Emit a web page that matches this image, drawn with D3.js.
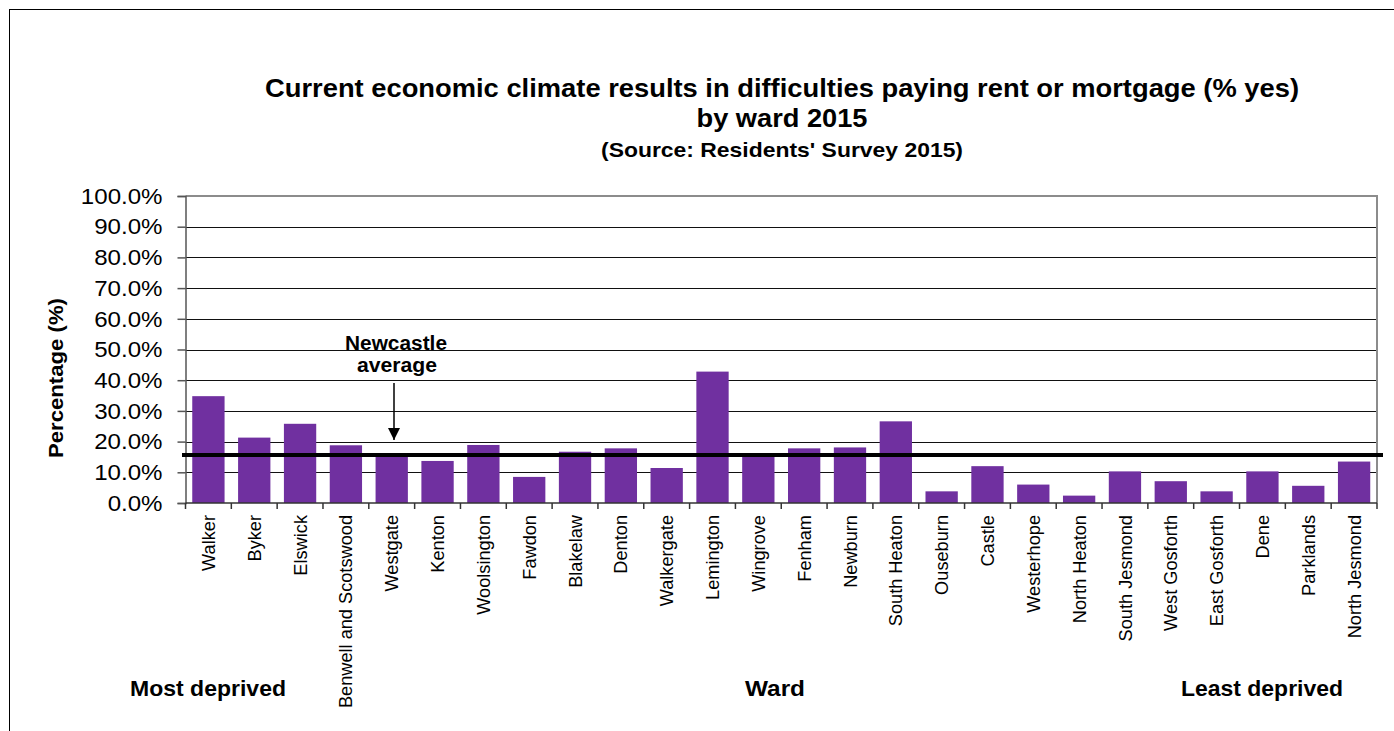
<!DOCTYPE html>
<html>
<head>
<meta charset="utf-8">
<script src="https://cdnjs.cloudflare.com/ajax/libs/d3/7.8.5/d3.min.js"></script>
<style>
  html, body { margin: 0; padding: 0; background: #fff; }
  svg { display: block; }
  text { font-family: Arial, "Liberation Sans", sans-serif; fill: #000; }
</style>
</head>
<body>
<svg id="chart" width="1394" height="731"></svg>
<script>
// Wards ordered from most to least deprived
const wards = [
  "Walker", "Byker", "Elswick", "Benwell and Scotswood", "Westgate", "Kenton",
  "Woolsington", "Fawdon", "Blakelaw", "Denton", "Walkergate", "Lemington",
  "Wingrove", "Fenham", "Newburn", "South Heaton", "Ouseburn", "Castle",
  "Westerhope", "North Heaton", "South Jesmond", "West Gosforth", "East Gosforth",
  "Dene", "Parklands", "North Jesmond"
];
// % answering yes
const pctYes = [
  34.8, 21.3, 25.8, 18.8, 15.0, 13.7,
  18.9, 8.5, 16.7, 17.8, 11.4, 42.8,
  15.4, 17.8, 18.1, 26.6, 3.8, 12.0,
  6.0, 2.4, 10.3, 7.1, 3.8,
  10.3, 5.6, 13.5
];
const cityAverage = 15.6;
const yTicks = [0, 10, 20, 30, 40, 50, 60, 70, 80, 90, 100];

const titleLines = [
  "Current economic climate results in difficulties paying rent or mortgage (% yes)",
  "by ward 2015"
];
const sourceLine = "(Source: Residents' Survey 2015)";

const svg = d3.select("#chart");

// outer frame
svg.append("rect")
  .attr("x", 9.5).attr("y", 9.5)
  .attr("width", 1420).attr("height", 740)
  .attr("fill", "none").attr("stroke", "#000").attr("stroke-width", 1);

const plot = { left: 185.5, right: 1377, top: 196, bottom: 503 };

const x = d3.scaleBand()
  .domain(wards)
  .range([plot.left, plot.right])
  .paddingInner(0.295)
  .paddingOuter(0.1475);

const y = d3.scaleLinear()
  .domain([0, 100])
  .range([plot.bottom, plot.top]);

// horizontal gridlines
svg.append("g")
  .selectAll("line")
  .data(yTicks.filter(t => t > 0 && t < 100))
  .join("line")
  .attr("x1", plot.left).attr("x2", plot.right)
  .attr("y1", d => Math.round(y(d)) + 0.5).attr("y2", d => Math.round(y(d)) + 0.5)
  .attr("stroke", "#111").attr("stroke-width", 1);

// plot area outline (top and right)
svg.append("path")
  .attr("d", `M${plot.left},${plot.top} H${plot.right} V${plot.bottom}`)
  .attr("fill", "none").attr("stroke", "#8c8c8c").attr("stroke-width", 2);

// bars
svg.append("g")
  .selectAll("rect")
  .data(wards.map((w, i) => ({ ward: w, value: pctYes[i] })))
  .join("rect")
  .attr("x", d => x(d.ward))
  .attr("width", x.bandwidth())
  .attr("y", d => y(d.value))
  .attr("height", d => y(0) - y(d.value))
  .attr("fill", "#7030A0");

// y axis
const yAxis = svg.append("g")
  .attr("transform", `translate(${plot.left},0)`)
  .call(d3.axisLeft(y).tickValues(yTicks).tickSize(8).tickPadding(15)
    .tickFormat(d => d.toFixed(1) + "%"));
yAxis.select(".domain").attr("stroke", "#555").attr("stroke-width", 1.5);
yAxis.selectAll(".tick line").attr("stroke", "#555").attr("stroke-width", 1.5);
yAxis.selectAll(".tick text")
  .style("font-size", "22.5px")
  .attr("fill", "#000")
  .each(function () {
    // slightly wide lettering
    const w = this.getComputedTextLength();
    d3.select(this).attr("textLength", w * 1.07).attr("lengthAdjust", "spacingAndGlyphs");
  });

// x axis baseline with ticks between categories
const step = x.step();
const xAxisG = svg.append("g");
xAxisG.append("line")
  .attr("x1", plot.left).attr("x2", plot.right)
  .attr("y1", plot.bottom).attr("y2", plot.bottom)
  .attr("stroke", "#333").attr("stroke-width", 1.5);
xAxisG.selectAll("line.tick")
  .data(d3.range(wards.length + 1))
  .join("line")
  .attr("class", "tick")
  .attr("x1", i => plot.left + i * step).attr("x2", i => plot.left + i * step)
  .attr("y1", plot.bottom).attr("y2", plot.bottom + 6)
  .attr("stroke", "#333").attr("stroke-width", 1.5);

// category labels, rotated
xAxisG.selectAll("text")
  .data(wards)
  .join("text")
  .attr("transform", d => `translate(${x(d) + x.bandwidth() / 2},${plot.bottom + 12}) rotate(-90)`)
  .attr("dy", "0.36em")
  .attr("text-anchor", "end")
  .style("font-size", "18.2px")
  .text(d => d);

// city average line
svg.append("line")
  .attr("x1", 182).attr("x2", 1383)
  .attr("y1", y(cityAverage)).attr("y2", y(cityAverage))
  .attr("stroke", "#000").attr("stroke-width", 4);

// annotation and arrow
svg.append("defs").append("marker")
  .attr("id", "arrowHead")
  .attr("viewBox", "0 0 10 10")
  .attr("refX", 10).attr("refY", 5)
  .attr("markerWidth", 12).attr("markerHeight", 12)
  .attr("markerUnits", "userSpaceOnUse")
  .attr("orient", "auto")
  .append("path").attr("d", "M0,0 L10,5 L0,10 Z").attr("fill", "#000");

svg.append("line")
  .attr("x1", 394).attr("x2", 394)
  .attr("y1", 383).attr("y2", 440)
  .attr("stroke", "#000").attr("stroke-width", 1.5)
  .attr("marker-end", "url(#arrowHead)");

svg.append("text")
  .attr("x", 396).attr("y", 350)
  .attr("text-anchor", "middle")
  .style("font-size", "20px").style("font-weight", "bold")
  .attr("textLength", 102).attr("lengthAdjust", "spacingAndGlyphs")
  .text("Newcastle");
svg.append("text")
  .attr("x", 397).attr("y", 372)
  .attr("text-anchor", "middle")
  .style("font-size", "20px").style("font-weight", "bold")
  .attr("textLength", 80).attr("lengthAdjust", "spacingAndGlyphs")
  .text("average");

// y axis title
svg.append("text")
  .attr("transform", "translate(63,378) rotate(-90)")
  .attr("text-anchor", "middle")
  .style("font-size", "20px").style("font-weight", "bold")
  .attr("textLength", 160).attr("lengthAdjust", "spacingAndGlyphs")
  .text("Percentage (%)");

// titles
svg.append("text")
  .attr("x", 782).attr("y", 97)
  .attr("text-anchor", "middle")
  .style("font-size", "25px").style("font-weight", "bold")
  .attr("textLength", 1034).attr("lengthAdjust", "spacingAndGlyphs")
  .text(titleLines[0]);
svg.append("text")
  .attr("x", 782).attr("y", 127)
  .attr("text-anchor", "middle")
  .style("font-size", "25px").style("font-weight", "bold")
  .attr("textLength", 171).attr("lengthAdjust", "spacingAndGlyphs")
  .text(titleLines[1]);
svg.append("text")
  .attr("x", 782).attr("y", 157)
  .attr("text-anchor", "middle")
  .style("font-size", "21px").style("font-weight", "bold")
  .attr("textLength", 362).attr("lengthAdjust", "spacingAndGlyphs")
  .text(sourceLine);

// bottom labels
const bottomLabels = [
  { text: "Most deprived", x: 130, w: 156 },
  { text: "Ward", x: 745, w: 60 },
  { text: "Least deprived", x: 1181, w: 162 }
];
svg.append("g")
  .selectAll("text")
  .data(bottomLabels)
  .join("text")
  .attr("x", d => d.x).attr("y", 696)
  .style("font-size", "22px").style("font-weight", "bold")
  .attr("textLength", d => d.w).attr("lengthAdjust", "spacingAndGlyphs")
  .text(d => d.text);
</script>
</body>
</html>
